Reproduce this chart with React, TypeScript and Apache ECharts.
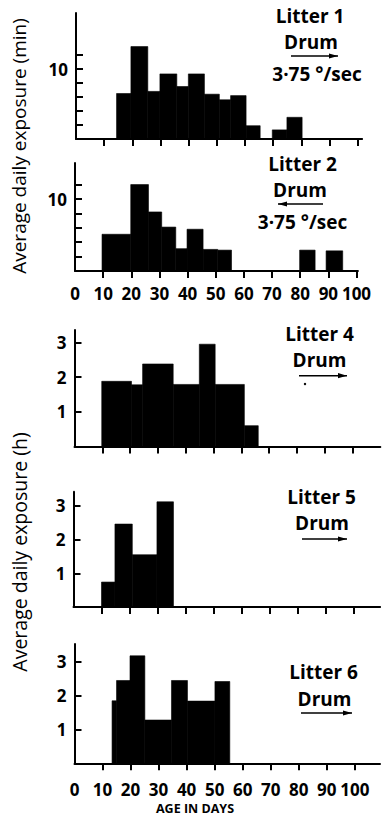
import React, { useEffect, useRef } from "react";
import * as echarts from "echarts";

// ---- data (ages in days: bin edges; values: average daily exposure) ----
const litter1Edges = [14.4, 19.5, 25.5, 29.8, 35.8, 39.9, 45.6, 50.9, 54.9, 60.4, 65.4, 69.7, 74.9, 80.3];
const litter1Values = [6.5, 13.2, 6.8, 9.3, 7.5, 9.3, 6.4, 5.6, 6.2, 1.9, 0, 1.3, 3.1]; // minutes

const litter2Edges = [9.6, 19.8, 26.1, 30.8, 35.8, 39.8, 45.5, 50.7, 55.6, 79.8, 85.3, 89.2, 95.1];
const litter2Values = [5.1, 12.0, 8.2, 6.1, 3.1, 5.8, 3.0, 2.9, 0, 2.9, 0, 2.8]; // minutes

const litter4Edges = [9.8, 20.5, 24.5, 35.5, 44.9, 50.6, 61.1, 66.1];
const litter4Values = [1.88, 1.78, 2.38, 1.79, 2.95, 1.79, 0.6]; // hours

const litter5Edges = [10, 14.8, 21, 29.8, 35.7];
const litter5Values = [0.74, 2.46, 1.55, 3.12]; // hours

const litter6Edges = [13.4, 15, 19.8, 25.1, 34.6, 40.3, 50.1, 55.4];
const litter6Values = [1.85, 2.45, 3.18, 1.28, 2.45, 1.84, 2.42]; // hours

const xTickValues = [10, 20, 30, 40, 50, 60, 70, 80, 90, 100];
const xLabelValues = [0, 10, 20, 30, 40, 50, 60, 70, 80, 90, 100];
const minTickValues = [2, 4, 6, 8, 10, 12];
const minLabelValues = [10];
const hourTickValues = [1, 2, 3];
const hourLabelValues = [1, 2, 3];

const panelTitles = ["Litter 1", "Litter 2", "Litter 4", "Litter 5", "Litter 6"];
const drumLabel = "Drum";
const speedLabel = "3·75 °/sec";
const yTitleMin = "Average daily exposure (min)";
const yTitleHour = "Average daily exposure (h)";
const xTitle = "AGE IN DAYS";

const FONT = "'Open Sans', 'DejaVu Sans', sans-serif";

function toBins(edges: number[], values: number[]) {
  const out: number[][] = [];
  values.forEach((v, i) => {
    if (v > 0) out.push([edges[i], edges[i + 1], v]);
  });
  return out;
}

const renderBin = (params: any, api: any) => {
  const p0 = api.coord([api.value(0), 0]);
  const p1 = api.coord([api.value(1), api.value(2)]);
  return {
    type: "rect",
    shape: { x: p0[0], y: p1[1], width: p1[0] - p0[0], height: p0[1] - p1[1] },
    style: { fill: "#000", stroke: "#000", lineWidth: 0.6 },
  };
};

export default function App() {
  const ref = useRef<HTMLDivElement>(null);

  useEffect(() => {
    document.body.style.margin = "0";
    if (!ref.current) return;
    const chart = echarts.init(ref.current, null, { renderer: "svg" });

    const panels = [
      { left: 76, top: 13, height: 126, scale: 2.816, xmax: 101.6, ymax: 18, ticks: minTickValues, labels: minLabelValues, showX: false, xMargin: 15, bins: toBins(litter1Edges, litter1Values) },
      { left: 75, top: 163, height: 108, scale: 2.815, xmax: 100.5, ymax: 15, ticks: minTickValues, labels: minLabelValues, showX: true, xMargin: 14, bins: toBins(litter2Edges, litter2Values) },
      { left: 74.5, top: 330, height: 116.5, scale: 2.78, xmax: 110, ymax: 3.36, ticks: hourTickValues, labels: hourLabelValues, showX: false, xMargin: 15, bins: toBins(litter4Edges, litter4Values) },
      { left: 73.5, top: 491.7, height: 115.3, scale: 2.8, xmax: 109.5, ymax: 3.42, ticks: hourTickValues, labels: hourLabelValues, showX: false, xMargin: 15, bins: toBins(litter5Edges, litter5Values) },
      { left: 74.5, top: 644, height: 119.3, scale: 2.803, xmax: 109, ymax: 3.53, ticks: hourTickValues, labels: hourLabelValues, showX: true, xMargin: 18, bins: toBins(litter6Edges, litter6Values) },
    ];

    const grid = panels.map((p) => ({ left: p.left, top: p.top, width: p.xmax * p.scale, height: p.height }));

    const xAxis = panels.map((p, i) => ({
      type: "value",
      gridIndex: i,
      min: 0,
      max: p.xmax,
      splitLine: { show: false },
      axisLine: { show: true, lineStyle: { color: "#000", width: 2 } },
      axisTick: { show: true, inside: false, length: 7, lineStyle: { color: "#000", width: 2 }, customValues: xTickValues },
      axisLabel: {
        show: p.showX,
        customValues: xLabelValues,
        margin: p.xMargin,
        color: "#000",
        fontFamily: FONT,
        fontWeight: "bold",
        fontSize: 17,
      },
    }));

    const yAxis = panels.map((p, i) => ({
      type: "value",
      gridIndex: i,
      min: 0,
      max: p.ymax,
      splitLine: { show: false },
      axisLine: { show: true, lineStyle: { color: "#000", width: 2 } },
      axisTick: { show: true, inside: true, length: 7, lineStyle: { color: "#000", width: 2 }, customValues: p.ticks },
      axisLabel: {
        show: true,
        customValues: p.labels,
        margin: 8,
        color: "#000",
        fontFamily: FONT,
        fontWeight: "bold",
        fontSize: 17,
      },
    }));

    const series = panels.map((p, i) => ({
      type: "custom",
      xAxisIndex: i,
      yAxisIndex: i,
      renderItem: renderBin,
      encode: { x: [0, 1], y: 2 },
      data: p.bins,
      silent: true,
    }));

    const txt = (text: string, x: number, y: number, size = 19, weight: any = "bold", extra: any = {}) => ({
      type: "text",
      x,
      y,
      style: {
        text,
        fill: "#000",
        font: `${weight} ${size}px ${FONT}`,
        lineHeight: Math.round(size * 1.0),
        textAlign: "center",
        textVerticalAlign: "middle",
        ...extra,
      },
    });

    const arrow = (x1: number, x2: number, y: number, dir: "right" | "left") => {
      const tipX = dir === "right" ? x2 : x1;
      const back = dir === "right" ? tipX - 9 : tipX + 9;
      return [
        { type: "line", shape: { x1, y1: y, x2, y2: y }, style: { stroke: "#000", lineWidth: 1.6 } },
        { type: "polygon", shape: { points: [[tipX, y], [back, y - 2.6], [back, y + 2.6]] }, style: { fill: "#000" } },
      ];
    };

    const graphic: any[] = [
      // panel annotations
      txt(panelTitles[0], 310, 15.5),
      txt(drumLabel, 311, 42),
      ...arrow(291, 338, 56, "right"),
      txt(speedLabel, 317, 74),

      txt(panelTitles[1], 302.5, 164),
      txt(drumLabel, 300, 190),
      ...arrow(278, 323, 204, "left"),
      txt(speedLabel, 302.5, 222),

      txt(panelTitles[2], 319.5, 334),
      txt(drumLabel, 319.5, 360),
      ...arrow(299, 347, 375.7, "right"),
      { type: "circle", shape: { cx: 305, cy: 384, r: 1.2 }, style: { fill: "#000" } },

      txt(panelTitles[3], 321.5, 497),
      txt(drumLabel, 322, 523),
      ...arrow(302, 347, 539, "right"),

      txt(panelTitles[4], 323.5, 672),
      txt(drumLabel, 324.5, 699),
      ...arrow(301, 352, 713, "right"),

      // axis titles
      {
        type: "text",
        x: 19,
        y: 146,
        rotation: Math.PI / 2,
        style: { text: yTitleMin, fill: "#000", font: `normal 19px ${FONT}`, textAlign: "center", textVerticalAlign: "middle" },
      },
      {
        type: "text",
        x: 19,
        y: 552,
        rotation: Math.PI / 2,
        style: { text: yTitleHour, fill: "#000", font: `normal 19.5px ${FONT}`, textAlign: "center", textVerticalAlign: "middle" },
      },
      txt(xTitle, 195, 808, 12.5, "bold"),
    ];

    chart.setOption({
      animation: false,
      grid,
      xAxis,
      yAxis,
      series,
      graphic,
    });

    return () => chart.dispose();
  }, []);

  return <div ref={ref} style={{ width: 382, height: 816 }} />;
}
